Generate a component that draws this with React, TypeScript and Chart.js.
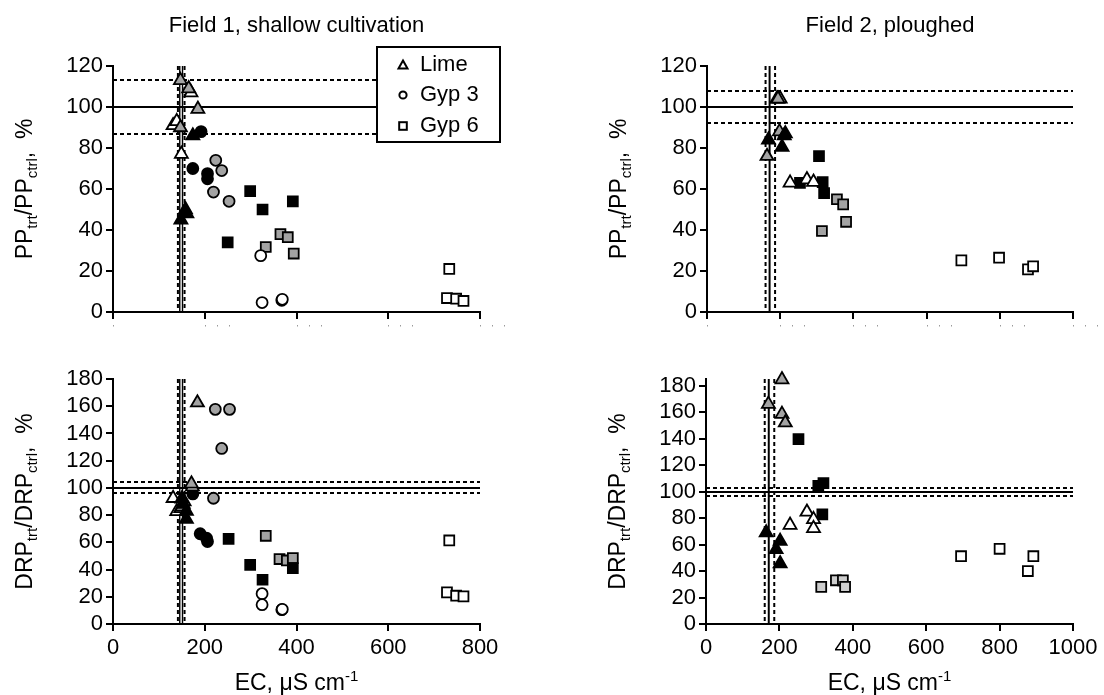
import React, { useEffect, useRef } from 'react';
import { Chart, registerables } from 'chart.js';

Chart.register(...registerables);

const FONT = "'Liberation Sans', Arial, Helvetica, sans-serif";

// ---------- Data (x = EC µS/cm, y = % of control) ----------
// Field 1, PP
const F1_PP_LIME_BLACK = [[174, 86], [158, 50], [161, 48], [148, 45]];
const F1_PP_LIME_GREY = [[147, 113], [165, 109], [185, 99], [147, 90]];
const F1_PP_LIME_WHITE = [[170, 107], [131, 91], [139, 93], [149, 77]];
const F1_PP_GYP3_BLACK = [[192, 88], [174, 70], [206, 67.5], [206, 65]];
const F1_PP_GYP3_GREY = [[224, 74], [237, 69], [219, 58.5], [253, 54]];
const F1_PP_GYP3_WHITE = [[322, 27.5], [325, 4.6], [368, 5.7], [369, 6.2]];
const F1_PP_GYP6_BLACK = [[299, 59], [326, 50], [392, 54], [250, 34]];
const F1_PP_GYP6_GREY = [[365, 38], [381, 36.5], [333, 31.7], [394, 28.5]];
const F1_PP_GYP6_WHITE = [[733, 21], [728, 6.8], [748, 6.5], [764, 5.4]];

// Field 2, PP
const F2_PP_LIME_BLACK = [[168, 84], [205, 80.5], [211, 86], [214, 87]];
const F2_PP_LIME_GREY = [[191, 104], [164, 76], [198, 88], [194, 104]];
const F2_PP_LIME_WHITE = [[200, 104], [227, 63], [273, 64.6], [291, 63.4]];
const F2_PP_GYP6_BLACK = [[306, 76], [254, 63], [316, 63.4], [320, 58]];
const F2_PP_GYP6_GREY = [[355, 55], [372, 52.5], [380, 44], [314, 39.5]];
const F2_PP_GYP6_WHITE = [[695, 25.2], [798, 26.5], [877, 20.8], [891, 22.3]];

// Field 1, DRP
const F1_DRP_LIME_BLACK = [[150, 92], [160, 83], [160, 77], [153, 88]];
const F1_DRP_LIME_GREY = [[184, 162.6], [171, 103], [155, 90], [150, 86]];
const F1_DRP_LIME_WHITE = [[131, 92.4], [139, 82.7], [173, 101], [148, 85]];
const F1_DRP_GYP3_BLACK = [[174, 95.6], [190, 66.3], [206, 60.6], [204, 63]];
const F1_DRP_GYP3_GREY = [[223, 157.7], [254, 157.7], [237, 129], [219, 92.4]];
const F1_DRP_GYP3_WHITE = [[325, 22.3], [325, 14.2], [368, 10.5], [369, 10.8]];
const F1_DRP_GYP6_BLACK = [[252, 62.6], [299, 43.5], [326, 32.5], [392, 41]];
const F1_DRP_GYP6_GREY = [[333, 64.8], [363, 47.7], [379, 46.7], [392, 48.4]];
const F1_DRP_GYP6_WHITE = [[733, 61.4], [728, 23.2], [748, 20.8], [764, 20.3]];

// Field 2, DRP
const F2_DRP_LIME_BLACK = [[164, 69], [202, 62.6], [191, 56.3], [202, 45.7]];
const F2_DRP_LIME_GREY = [[207, 184.6], [170, 166], [207, 158.5], [216, 152]];
const F2_DRP_LIME_WHITE = [[229, 74.7], [275, 84.6], [293, 79], [293, 72.2]];
const F2_DRP_GYP6_BLACK = [[252, 139.6], [306, 104.3], [320, 106.3], [317, 82.8]];
const F2_DRP_GYP6_GREY = [[314, 28], [354, 33], [373, 33], [379, 28]];
const F2_DRP_GYP6_WHITE = [[695, 51.2], [800, 56.8], [877, 40], [892, 51.2]];

// Reference lines (control mean ± CI)
const CTRL_SOLID = [100];
const F1_PP_H_DASHED = [113.3, 86.7];
const F2_PP_H_DASHED = [108, 92];
const F1_DRP_H_DASHED = [104, 96];
const F2_DRP_H_DASHED = [103, 97];
const F1_V_SOLID = [145.5, 151.5];
const F1_V_DASHED = [141.5, 156];
const F2_V_SOLID = [171];
const F2_V_DASHED = [160, 186];

// Axis settings
const F1_X_MAX = 800;
const F2_X_MAX = 1000;
const X_STEP = 200;
const Y_STEP = 20;
const PP_Y_MAX = 120;
const F1_DRP_Y_MAX = 180;
const F2_DRP_Y_MAX = 185;

const LEGEND_LABELS = ['Lime', 'Gyp 3', 'Gyp 6'];
const TITLES = ['Field 1, shallow cultivation', 'Field 2, ploughed'];

const BLACK = '#000000';
const GREY = '#a3a3a3';
const LIGHT_GREY = '#cdcdcd';
const WHITE = '#ffffff';

type Shape = 'triangle' | 'circle' | 'rect';
interface SeriesDef { data: number[][]; shape: Shape; fill: string }
type Part = [string, 'n' | 'sub' | 'sup'];

interface PanelProps {
  left: number; top: number; width: number; height: number;
  plot: { l: number; r: number; t: number; b: number };
  xMax: number; yMax: number;
  series: SeriesDef[];
  hDashed: number[]; vSolid: number[]; vDashed: number[];
  yTitle: Part[];
  title?: string;
  xTitle?: Part[];
  showXLabels: boolean;
  legend?: boolean;
}

function makeDataset(s: SeriesDef) {
  const r = s.shape === 'triangle' ? 7.5 : s.shape === 'circle' ? 5.5 : 7;
  return {
    data: s.data.map(([x, y]) => ({ x, y })),
    pointStyle: s.shape,
    pointRadius: r,
    pointHoverRadius: r,
    pointBackgroundColor: s.fill,
    pointBorderColor: '#000',
    pointBorderWidth: 1.8,
    backgroundColor: s.fill,
    borderColor: '#000',
    showLine: false,
    clip: false as any,
  };
}

function drawParts(ctx: CanvasRenderingContext2D, parts: Part[], startX: number) {
  let x = startX;
  for (const [t, kind] of parts) {
    ctx.font = kind === 'n' ? `23px ${FONT}` : `15px ${FONT}`;
    const dy = kind === 'sub' ? 5 : kind === 'sup' ? -9 : 0;
    ctx.fillText(t, x, dy);
    x += ctx.measureText(t).width;
  }
}

function partsWidth(ctx: CanvasRenderingContext2D, parts: Part[]) {
  let w = 0;
  for (const [t, kind] of parts) {
    ctx.font = kind === 'n' ? `23px ${FONT}` : `15px ${FONT}`;
    w += ctx.measureText(t).width;
  }
  return w;
}

function Panel(p: PanelProps) {
  const ref = useRef<HTMLCanvasElement>(null);
  useEffect(() => {
    const canvas = ref.current!;
    const Y_W = 80;
    const X_H = p.height - p.plot.b;
    const pad = {
      left: p.plot.l - Y_W,
      right: p.width - p.plot.r,
      top: p.plot.t,
      bottom: 0,
    };

    const decor = {
      id: 'decor',
      beforeDatasetsDraw(chart: any) {
        const { ctx, chartArea: a, scales } = chart;
        const xs = scales.x, ys = scales.y;
        ctx.save();
        ctx.strokeStyle = '#000';
        const hline = (v: number, dash: number[]) => {
          const py = Math.round(ys.getPixelForValue(v));
          ctx.lineWidth = 2;
          ctx.setLineDash(dash);
          ctx.beginPath(); ctx.moveTo(a.left, py); ctx.lineTo(a.right, py); ctx.stroke();
        };
        const vline = (v: number, dash: number[], w: number) => {
          const px = xs.getPixelForValue(v);
          ctx.lineWidth = w;
          ctx.setLineDash(dash);
          ctx.beginPath(); ctx.moveTo(px, a.top); ctx.lineTo(px, a.bottom); ctx.stroke();
        };
        CTRL_SOLID.forEach((v) => hline(v, []));
        p.hDashed.forEach((v) => hline(v, [4, 3]));
        const vw = p.vSolid.length > 1 ? 1.4 : 2;
        p.vSolid.forEach((v) => vline(v, [], vw));
        p.vDashed.forEach((v) => vline(v, [4, 3], 2));
        ctx.restore();
      },
      afterDraw(chart: any) {
        const { ctx, chartArea: a, scales } = chart;
        ctx.save();
        ctx.fillStyle = '#000';
        ctx.textBaseline = 'alphabetic';
        // Title
        if (p.title) {
          ctx.font = `22px ${FONT}`;
          ctx.textAlign = 'center';
          ctx.fillText(p.title, (a.left + a.right) / 2, 32);
        }
        ctx.textAlign = 'left';
        // Y title (rotated)
        {
          const w = partsWidth(ctx, p.yTitle);
          ctx.save();
          ctx.translate(a.left - 81, (a.top + a.bottom) / 2);
          ctx.rotate(-Math.PI / 2);
          drawParts(ctx, p.yTitle, -w / 2);
          ctx.restore();
        }
        // X title
        if (p.xTitle) {
          const w = partsWidth(ctx, p.xTitle);
          ctx.save();
          ctx.translate((a.left + a.right) / 2, 350);
          drawParts(ctx, p.xTitle, -w / 2);
          ctx.restore();
        }
        // faint residual tick-label marks on the top panels
        if (!p.showXLabels) {
          ctx.fillStyle = '#9a9a9a';
          for (const t of scales.x.ticks) {
            const px = scales.x.getPixelForValue(t.value);
            const s = String(t.value);
            for (let i = 0; i < s.length; i++) {
              ctx.fillRect(Math.round(px + i * 12), a.bottom + 13, 1, 1.5);
            }
          }
          ctx.fillStyle = '#000';
        }
        // Legend
        if (p.legend) {
          const bx = 377, by = 47, bw = 123, bh = 95;
          ctx.fillStyle = '#fff';
          ctx.fillRect(bx, by, bw, bh);
          ctx.strokeStyle = '#000';
          ctx.lineWidth = 2;
          ctx.setLineDash([]);
          ctx.strokeRect(bx, by, bw, bh);
          const rows = [65, 95, 126];
          const ix = 403;
          ctx.lineWidth = 2;
          // triangle
          ctx.beginPath();
          ctx.moveTo(ix, rows[0] - 4.5);
          ctx.lineTo(ix + 4.5, rows[0] + 3.5);
          ctx.lineTo(ix - 4.5, rows[0] + 3.5);
          ctx.closePath();
          ctx.stroke();
          // circle
          ctx.beginPath();
          ctx.arc(ix, rows[1], 3.6, 0, Math.PI * 2);
          ctx.stroke();
          // square
          ctx.strokeRect(ix - 3.8, rows[2] - 3.8, 7.6, 7.6);
          ctx.fillStyle = '#000';
          ctx.font = `22px ${FONT}`;
          ctx.textBaseline = 'middle';
          LEGEND_LABELS.forEach((l, i) => ctx.fillText(l, 420, rows[i] - 0.5));
        }
        ctx.restore();
      },
    };

    const commonGrid = {
      display: true,
      drawOnChartArea: false,
      drawTicks: true,
      tickLength: 7,
      tickWidth: 2,
      tickColor: '#000',
      color: '#000',
      lineWidth: 2,
    };
    const border = { display: true, color: '#000', width: 2 };

    const chart = new Chart(canvas, {
      type: 'scatter',
      data: { datasets: p.series.map(makeDataset) as any },
      options: {
        responsive: false,
        maintainAspectRatio: false,
        animation: false,
        events: [],
        layout: { padding: pad },
        plugins: {
          legend: { display: false },
          tooltip: { enabled: false },
          title: { display: false },
        },
        scales: {
          x: {
            type: 'linear',
            min: 0,
            max: p.xMax,
            grid: commonGrid as any,
            border: border as any,
            ticks: {
              stepSize: X_STEP,
              display: p.showXLabels,
              color: '#000',
              padding: 4,
              maxRotation: 0,
              autoSkip: false,
              font: { family: FONT, size: 22 },
              callback: (v: any) => String(v),
            },
            afterFit: (s: any) => { s.height = X_H; },
          },
          y: {
            type: 'linear',
            min: 0,
            max: p.yMax,
            grid: commonGrid as any,
            border: border as any,
            ticks: {
              stepSize: Y_STEP,
              includeBounds: false,
              color: '#000',
              padding: 3,
              autoSkip: false,
              font: { family: FONT, size: 22 },
              callback: (v: any) => String(v),
            },
            afterFit: (s: any) => { s.width = Y_W; },
          },
        },
      },
      plugins: [decor],
    });
    return () => chart.destroy();
  }, []);
  return (
    <canvas
      ref={ref}
      width={p.width}
      height={p.height}
      style={{ position: 'absolute', left: p.left, top: p.top, width: p.width, height: p.height, display: 'block' }}
    />
  );
}

const PP_TITLE: Part[] = [['PP', 'n'], ['trt', 'sub'], ['/PP', 'n'], ['ctrl', 'sub'], [',  %', 'n']];
const DRP_TITLE: Part[] = [['DRP', 'n'], ['trt', 'sub'], ['/DRP', 'n'], ['ctrl', 'sub'], [',  %', 'n']];
const EC_TITLE: Part[] = [['EC, \u03bcS cm', 'n'], ['-1', 'sup']];

export default function App() {
  const f1pp: SeriesDef[] = [
    { data: F1_PP_LIME_BLACK, shape: 'triangle', fill: BLACK },
    { data: F1_PP_LIME_GREY, shape: 'triangle', fill: GREY },
    { data: F1_PP_LIME_WHITE, shape: 'triangle', fill: WHITE },
    { data: F1_PP_GYP3_BLACK, shape: 'circle', fill: BLACK },
    { data: F1_PP_GYP3_GREY, shape: 'circle', fill: GREY },
    { data: F1_PP_GYP3_WHITE, shape: 'circle', fill: WHITE },
    { data: F1_PP_GYP6_BLACK, shape: 'rect', fill: BLACK },
    { data: F1_PP_GYP6_GREY, shape: 'rect', fill: GREY },
    { data: F1_PP_GYP6_WHITE, shape: 'rect', fill: WHITE },
  ];
  const f2pp: SeriesDef[] = [
    { data: F2_PP_LIME_BLACK, shape: 'triangle', fill: BLACK },
    { data: F2_PP_LIME_GREY, shape: 'triangle', fill: GREY },
    { data: F2_PP_LIME_WHITE, shape: 'triangle', fill: WHITE },
    { data: F2_PP_GYP6_BLACK, shape: 'rect', fill: BLACK },
    { data: F2_PP_GYP6_GREY, shape: 'rect', fill: GREY },
    { data: F2_PP_GYP6_WHITE, shape: 'rect', fill: WHITE },
  ];
  const f1drp: SeriesDef[] = [
    { data: F1_DRP_LIME_BLACK, shape: 'triangle', fill: BLACK },
    { data: F1_DRP_LIME_GREY, shape: 'triangle', fill: GREY },
    { data: F1_DRP_LIME_WHITE, shape: 'triangle', fill: WHITE },
    { data: F1_DRP_GYP3_BLACK, shape: 'circle', fill: BLACK },
    { data: F1_DRP_GYP3_GREY, shape: 'circle', fill: GREY },
    { data: F1_DRP_GYP3_WHITE, shape: 'circle', fill: WHITE },
    { data: F1_DRP_GYP6_BLACK, shape: 'rect', fill: BLACK },
    { data: F1_DRP_GYP6_GREY, shape: 'rect', fill: GREY },
    { data: F1_DRP_GYP6_WHITE, shape: 'rect', fill: WHITE },
  ];
  const f2drp: SeriesDef[] = [
    { data: F2_DRP_LIME_BLACK, shape: 'triangle', fill: BLACK },
    { data: F2_DRP_LIME_GREY, shape: 'triangle', fill: GREY },
    { data: F2_DRP_LIME_WHITE, shape: 'triangle', fill: WHITE },
    { data: F2_DRP_GYP6_BLACK, shape: 'rect', fill: BLACK },
    { data: F2_DRP_GYP6_GREY, shape: 'rect', fill: LIGHT_GREY },
    { data: F2_DRP_GYP6_WHITE, shape: 'rect', fill: WHITE },
  ];

  return (
    <div style={{ position: 'fixed', left: 0, top: 0, width: 1104, height: 695, background: '#fff' }}>
      <Panel
        left={0} top={0} width={552} height={340}
        plot={{ l: 113, r: 480, t: 66, b: 312 }}
        xMax={F1_X_MAX} yMax={PP_Y_MAX}
        series={f1pp}
        hDashed={F1_PP_H_DASHED} vSolid={F1_V_SOLID} vDashed={F1_V_DASHED}
        yTitle={PP_TITLE} title={TITLES[0]} showXLabels={false} legend
      />
      <Panel
        left={552} top={0} width={552} height={340}
        plot={{ l: 155, r: 521, t: 66, b: 312 }}
        xMax={F2_X_MAX} yMax={PP_Y_MAX}
        series={f2pp}
        hDashed={F2_PP_H_DASHED} vSolid={F2_V_SOLID} vDashed={F2_V_DASHED}
        yTitle={PP_TITLE} title={TITLES[1]} showXLabels={false}
      />
      <Panel
        left={0} top={340} width={552} height={355}
        plot={{ l: 113, r: 480, t: 39, b: 284 }}
        xMax={F1_X_MAX} yMax={F1_DRP_Y_MAX}
        series={f1drp}
        hDashed={F1_DRP_H_DASHED} vSolid={F1_V_SOLID} vDashed={F1_V_DASHED}
        yTitle={DRP_TITLE} xTitle={EC_TITLE} showXLabels
      />
      <Panel
        left={552} top={340} width={552} height={355}
        plot={{ l: 154, r: 521, t: 39, b: 284 }}
        xMax={F2_X_MAX} yMax={F2_DRP_Y_MAX}
        series={f2drp}
        hDashed={F2_DRP_H_DASHED} vSolid={F2_V_SOLID} vDashed={F2_V_DASHED}
        yTitle={DRP_TITLE} xTitle={EC_TITLE} showXLabels
      />
    </div>
  );
}
